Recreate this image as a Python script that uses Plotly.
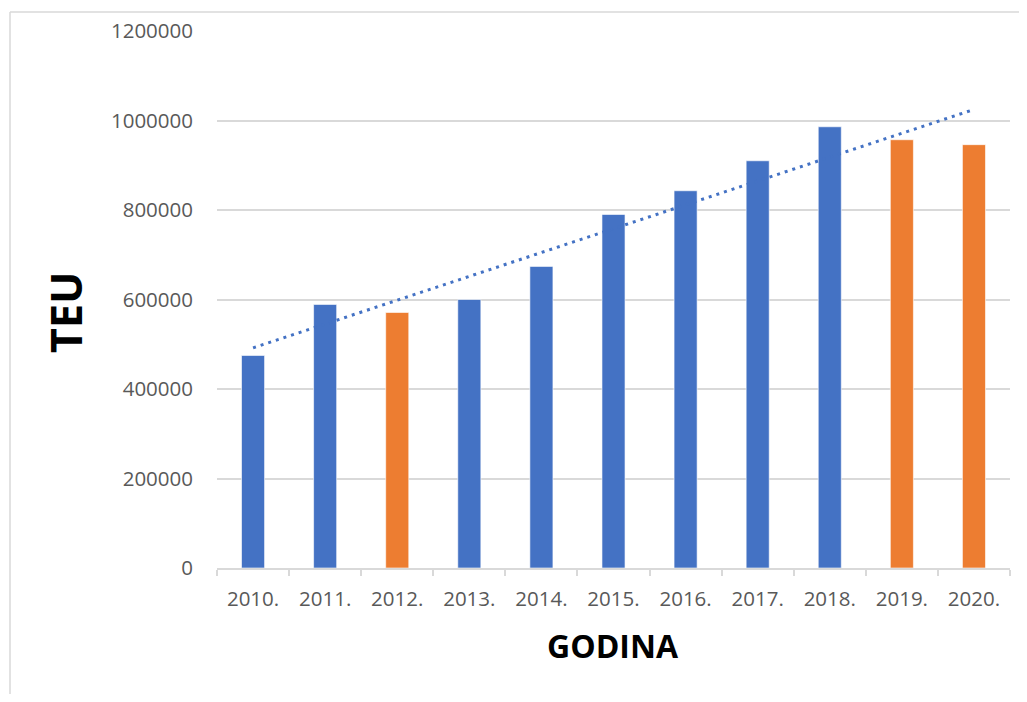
import numpy as np
import plotly.graph_objects as go

years = ["2010.", "2011.", "2012.", "2013.", "2014.", "2015.", "2016.", "2017.", "2018.", "2019.", "2020."]
teu = [475000, 589000, 571000, 600000, 674000, 790000, 843000, 910000, 986000, 957000, 946000]
highlighted = ["2012.", "2019.", "2020."]
y_ticks = [0, 200000, 400000, 600000, 800000, 1000000, 1200000]

BLUE = "#4472C4"
ORANGE = "#ED7D31"
colors = [ORANGE if y in highlighted else BLUE for y in years]

# linear trendline (least squares) computed from the bar values
xi = np.arange(len(years))
slope, intercept = np.polyfit(xi, teu, 1)
trend = slope * xi + intercept

# page has an 8px body margin; figure sized so it fits the 1027x702 window
W, H = 1011, 686
L, R, T, B = 209, 9, 23, 126
pw, ph = W - L - R, H - T - B  # 793 x 537
PX0, PY0 = 217, 568  # page coords of plot-area left / bottom


def px(x):
    return (x - PX0) / pw


def py(y):
    return (PY0 - y) / ph


fig = go.Figure()
fig.add_trace(go.Bar(
    x=years, y=teu, marker=dict(color=colors, line=dict(color="rgba(255,255,255,0.6)", width=1)),
    width=0.32, showlegend=False, hoverinfo="x+y",
))
fig.add_trace(go.Scatter(
    x=years, y=trend, mode="lines",
    line=dict(color=BLUE, width=3, dash="3px,5px"),
    showlegend=False, hoverinfo="skip",
))

font_tick = dict(family="Open Sans, Noto Sans, sans-serif", size=20.5, color="#595959")
frame = dict(color="#d9d9d9", width=1.5)

fig.update_layout(
    width=W, height=H,
    margin=dict(l=L, r=R, t=T, b=B, pad=0),
    plot_bgcolor="white", paper_bgcolor="white",
    xaxis=dict(
        type="category", tickfont=font_tick,
        showline=True, linecolor="#d9d9d9", linewidth=1.5,
        ticks="outside", tickson="boundaries", ticklen=6, tickcolor="#d9d9d9", tickwidth=1.5,
        showgrid=False, ticklabelstandoff=12,
    ),
    yaxis=dict(
        range=[0, 1200000], tickvals=y_ticks, ticktext=[str(v) for v in y_ticks],
        tickfont=font_tick, showgrid=True, gridcolor="#d9d9d9", gridwidth=1.5,
        zeroline=False, showline=False, ticks="", ticklabelstandoff=23,
    ),
    annotations=[
        dict(text="<b>GODINA</b>", xref="paper", yref="paper",
             x=px(613), y=py(645), xanchor="center", yanchor="middle",
             showarrow=False, font=dict(family="Open Sans, sans-serif", size=32, color="black")),
        dict(text="<b>TEU</b>", xref="paper", yref="paper", textangle=-90,
             x=px(65), y=py(312), xanchor="center", yanchor="middle",
             showarrow=False, font=dict(family="Open Sans, sans-serif", size=43, color="black")),
    ],
    shapes=[
        # chart-area frame: only its left and top edges fall inside the window
        dict(type="line", xref="paper", yref="paper",
             x0=px(10), x1=px(10), y0=py(760), y1=py(12), line=frame, layer="below"),
        dict(type="line", xref="paper", yref="paper",
             x0=px(10), x1=px(1060), y0=py(12), y1=py(12), line=frame, layer="below"),
    ],
    bargap=0.68,
)

fig.write_html("out.html")
